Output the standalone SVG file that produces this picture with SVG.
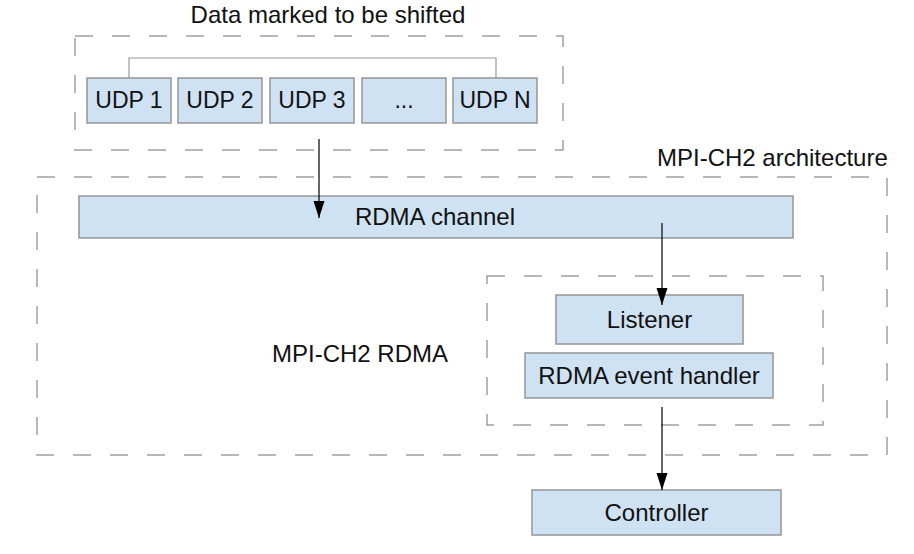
<svg xmlns="http://www.w3.org/2000/svg" width="914" height="554" viewBox="0 0 914 554">
  <style>
    .bg { fill: #ffffff; }
    .box { fill: #cfe2f3; stroke: #959595; stroke-width: 1.5; }
    .group { fill: none; stroke: #a0a0a0; stroke-width: 1.5; stroke-dasharray: 18 19; }
    .txt { font-family: "Liberation Sans", Arial, sans-serif; font-size: 24px; fill: #111111; }
    .mid { text-anchor: middle; }
    .link { fill: none; stroke: #999999; stroke-width: 1.2; }
    .arrow { fill: none; stroke: #000000; stroke-width: 1.2; }
  </style>
  <defs>
    <marker id="arr" markerUnits="userSpaceOnUse" markerWidth="18" markerHeight="12" refX="17" refY="5.5" orient="auto" viewBox="0 0 18 11">
      <path d="M0,0 L17,5.5 L0,11 Z" fill="#000000"/>
    </marker>
  </defs>
  <rect class="bg" x="0" y="0" width="914" height="554"/>

  <g id="group-data">
    <rect class="group" x="75" y="36" width="488" height="114"/>
    <text class="txt mid" x="328" y="23">Data marked to be shifted</text>
  </g>
  <g id="group-architecture">
    <rect class="group" x="37" y="177" width="850" height="278"/>
    <text class="txt" x="657" y="166">MPI-CH2 architecture</text>
  </g>
  <g id="group-rdma">
    <rect class="group" x="487" y="276" width="336" height="149"/>
  </g>
  <g id="label-mpi-ch2-rdma">
    <text class="txt mid" x="360" y="362">MPI-CH2 RDMA</text>
  </g>

  <g id="udp1">
    <rect class="box" x="87" y="78" width="84" height="45"/>
    <text class="txt mid" x="129" y="108" style="font-size:23px">UDP 1</text>
  </g>
  <g id="udp2">
    <rect class="box" x="178" y="78" width="84" height="45"/>
    <text class="txt mid" x="220" y="108" style="font-size:23px">UDP 2</text>
  </g>
  <g id="udp3">
    <rect class="box" x="270" y="78" width="84" height="45"/>
    <text class="txt mid" x="312" y="108" style="font-size:23px">UDP 3</text>
  </g>
  <g id="udp-ellipsis">
    <rect class="box" x="362" y="78" width="84" height="45"/>
    <text class="txt mid" x="404" y="108" style="font-size:23px">...</text>
  </g>
  <g id="udpN">
    <rect class="box" x="453" y="78" width="84" height="45"/>
    <text class="txt mid" x="495" y="108" style="font-size:23px">UDP N</text>
  </g>

  <g id="rdma-channel">
    <rect class="box" x="79" y="196" width="714" height="42"/>
    <text class="txt mid" x="435" y="225">RDMA channel</text>
  </g>
  <g id="listener">
    <rect class="box" x="556" y="295" width="187" height="49"/>
    <text class="txt mid" x="649.5" y="328">Listener</text>
  </g>
  <g id="rdma-event-handler">
    <rect class="box" x="525" y="353" width="248" height="45"/>
    <text class="txt mid" x="649" y="384">RDMA event handler</text>
  </g>
  <g id="controller">
    <rect class="box" x="532" y="490" width="249" height="45"/>
    <text class="txt mid" x="656.5" y="521">Controller</text>
  </g>

  <g id="connectors">
    <polyline class="link" points="129,78 129,58 496,58 496,78"/>
    <line class="arrow" x1="319" y1="139" x2="319" y2="218" marker-end="url(#arr)"/>
    <line class="arrow" x1="662" y1="223" x2="662" y2="305" marker-end="url(#arr)"/>
    <line class="arrow" x1="662" y1="407" x2="662" y2="490" marker-end="url(#arr)"/>
  </g>
</svg>
